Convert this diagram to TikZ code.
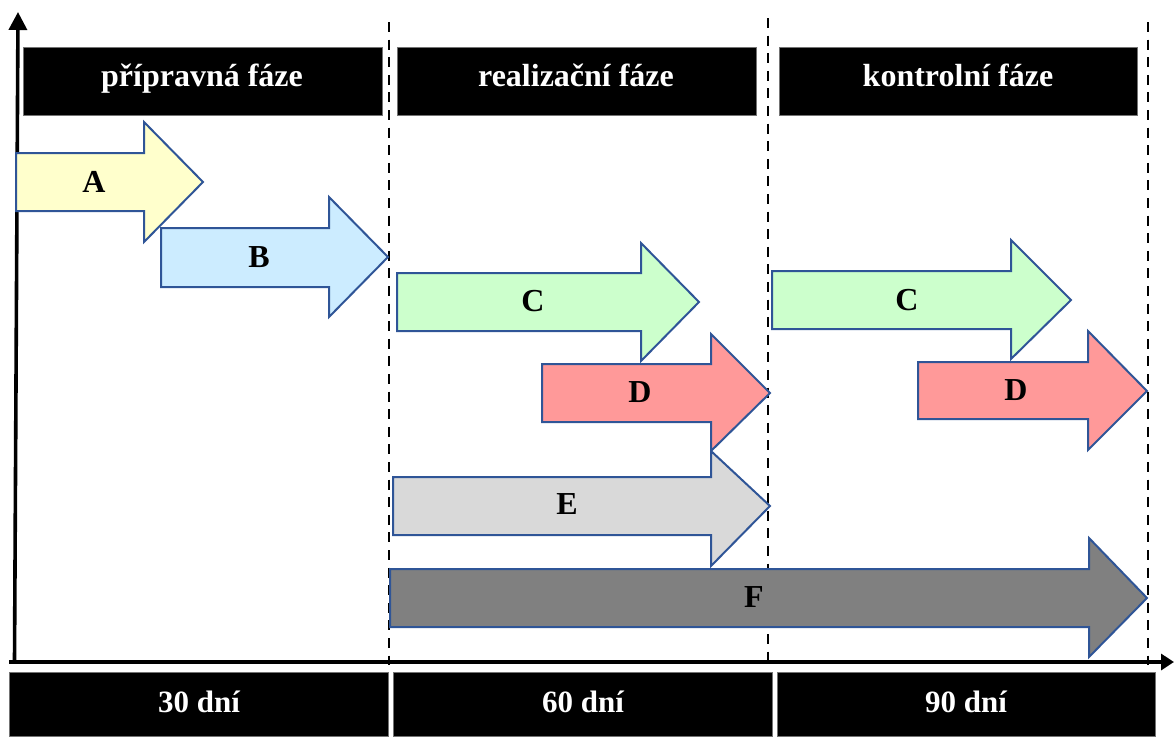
\documentclass[tikz,border=0pt]{standalone}
\usepackage{fontspec}
\setmainfont{Liberation Serif}
\usetikzlibrary{arrows.meta}
\definecolor{edgeblue}{HTML}{2F5597}
\definecolor{fillA}{HTML}{FFFFCC}
\definecolor{fillB}{HTML}{CCECFF}
\definecolor{fillC}{HTML}{CCFFCC}
\definecolor{fillD}{HTML}{FF9999}
\definecolor{fillE}{HTML}{D9D9D9}
\definecolor{fillF}{HTML}{808080}
\begin{document}
\begin{tikzpicture}[x=0.5pt,y=-0.5pt,
  blk/.style={fill=black,draw=black!55,line width=0.4pt},
  hdr/.style={text=white,anchor=base,font=\bfseries\fontsize{16}{18}\selectfont},
  dur/.style={text=white,anchor=base,font=\bfseries\fontsize{15.5}{18}\selectfont},
  lbl/.style={font=\bfseries\fontsize{16}{18}\selectfont,inner sep=0pt},
  barrow/.style={draw=edgeblue,line width=1pt,line join=miter},
  phase/.style={dashed,line width=1.3pt,dash pattern=on 5pt off 3.8pt},
  axis/.style={line width=1.8pt}]
\useasboundingbox (0,0) rectangle (1174,736);

% axes
\coordinate (o) at (14.5,662);
\coordinate (ytop) at (18,12);
\coordinate (xl) at (9,662);
\coordinate (xr) at (1174,662);
\draw[axis,-{Triangle[length=9pt,width=9pt]}] (o) -- (ytop);
\draw[axis,-{Triangle[length=6.5pt,width=8pt]}] (xl) -- (xr);

% phase separators
\coordinate (s1t) at (389,22);  \coordinate (s1b) at (389,665);
\coordinate (s2t) at (768,18);  \coordinate (s2b) at (768,665);
\coordinate (s3t) at (1148,22); \coordinate (s3b) at (1148,665);
\draw[phase] (s1t) -- (s1b);
\draw[phase] (s2t) -- (s2b);
\draw[phase] (s3t) -- (s3b);

% header boxes
\fill[blk] (23,47) rectangle (382,115);
\fill[blk] (397,47) rectangle (756,115);
\fill[blk] (779,47) rectangle (1137,115);
\node[hdr] (h1) at (202,86) {přípravná fáze};
\node[hdr] (h2) at (576,86) {realizační fáze};
\node[hdr] (h3) at (958,86) {kontrolní fáze};

% duration boxes
\fill[blk] (9,672) rectangle (388,736);
\fill[blk] (393,672) rectangle (772,736);
\fill[blk] (777,672) rectangle (1155,736);
\node[dur] (d1) at (199,712) {30 dní};
\node[dur] (d2) at (583,712) {60 dní};
\node[dur] (d3) at (966,712) {90 dní};

% block arrows
\draw[barrow,fill=fillA] (16,153) -- (144,153) -- (144,122) -- (203,182) -- (144,242) -- (144,211) -- (16,211) -- cycle;
\draw[barrow,fill=fillB] (161,228) -- (329,228) -- (329,197) -- (388,257) -- (329,317) -- (329,287) -- (161,287) -- cycle;
\draw[barrow,fill=fillC] (397,273) -- (641,273) -- (641,243) -- (699,302) -- (641,361) -- (641,331) -- (397,331) -- cycle;
\draw[barrow,fill=fillD] (542,364) -- (711,364) -- (711,334) -- (770,393) -- (711,451) -- (711,422) -- (542,422) -- cycle;
\draw[barrow,fill=fillE] (393,477) -- (711,477) -- (711,451) -- (770,506) -- (711,566) -- (711,535) -- (393,535) -- cycle;
\draw[barrow,fill=fillF] (390,569) -- (1089,569) -- (1089,538) -- (1147,598) -- (1089,657) -- (1089,627) -- (390,627) -- cycle;
\draw[barrow,fill=fillC] (772,271) -- (1011,271) -- (1011,240) -- (1071,300) -- (1011,359) -- (1011,329) -- (772,329) -- cycle;
\draw[barrow,fill=fillD] (918,362) -- (1088,362) -- (1088,331) -- (1147,391) -- (1088,450) -- (1088,419) -- (918,419) -- cycle;

\node[lbl] (lA) at (94,182) {A};
\node[lbl] (lB) at (259,257) {B};
\node[lbl] (lC1) at (533,301) {C};
\node[lbl] (lD1) at (640,392) {D};
\node[lbl] (lE) at (567,504) {E};
\node[lbl] (lF) at (754,597) {F};
\node[lbl] (lC2) at (907,300) {C};
\node[lbl] (lD2) at (1016,390) {D};
\end{tikzpicture}
\end{document}
